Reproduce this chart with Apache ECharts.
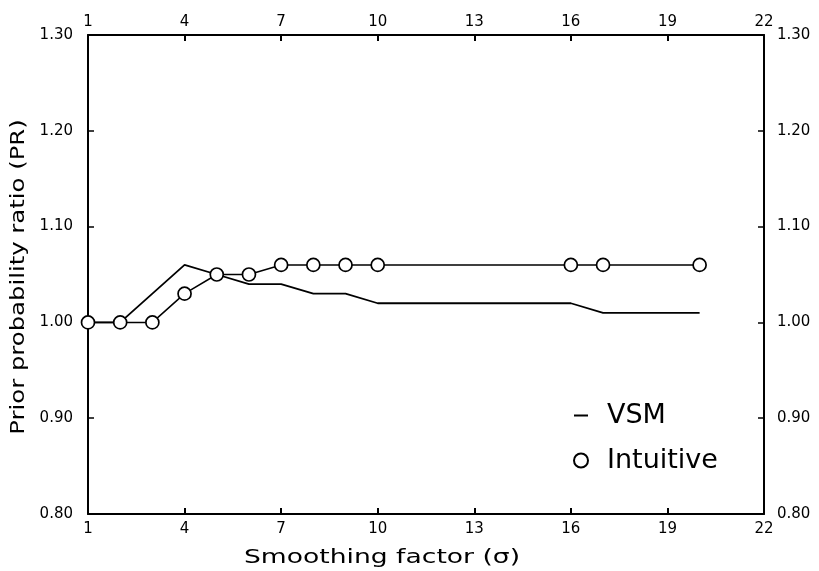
<!DOCTYPE html>
<html>
<head>
<meta charset="utf-8">
<script src="https://cdn.jsdelivr.net/npm/echarts@6/dist/echarts.min.js"></script>
<style>
  html, body { margin: 0; padding: 0; background: #fff; }
  #chart { width: 819px; height: 571px; }
</style>
</head>
<body>
<div id="chart"></div>
<script>
// Smoothing factor values at which the prior probability ratio was computed
const sigma = [1, 2, 3, 4, 5, 6, 7, 8, 9, 10, 16, 17, 20];
// Prior probability ratio, VSM method
const vsmPR = [1.00, 1.00, 1.03, 1.06, 1.05, 1.04, 1.04, 1.03, 1.03, 1.02, 1.02, 1.01, 1.01];
// Prior probability ratio, intuitive method
const intuitivePR = [1.00, 1.00, 1.00, 1.03, 1.05, 1.05, 1.06, 1.06, 1.06, 1.06, 1.06, 1.06, 1.06];
// Tick positions on the smoothing-factor axis
const xTicks = [1, 4, 7, 10, 13, 16, 19, 22];

const font = 'DejaVu Sans';
const black = '#000';

const pairs = (xs, ys) => xs.map((x, i) => [x, ys[i]]);

function xAxisDef(position, labelMargin) {
  return {
    type: 'value',
    position: position,
    min: 1,
    max: 22,
    axisLine: { show: true, onZero: false, lineStyle: { color: black, width: 2 } },
    axisTick: { show: true, inside: true, length: 6, lineStyle: { color: black, width: 2 }, customValues: xTicks },
    axisLabel: { show: true, margin: labelMargin, color: black, fontFamily: font, fontSize: 15, customValues: xTicks },
    splitLine: { show: false }
  };
}

function yAxisDef(position, labelMargin) {
  return {
    type: 'value',
    position: position,
    min: 0.8,
    max: 1.3,
    interval: 0.1,
    axisLine: { show: true, onZero: false, lineStyle: { color: black, width: 2 } },
    axisTick: { show: true, inside: true, length: 6, lineStyle: { color: black, width: 1.5 } },
    axisLabel: {
      show: true, margin: labelMargin, color: black, fontFamily: font, fontSize: 15,
      formatter: v => v.toFixed(2)
    },
    splitLine: { show: false }
  };
}

const chart = echarts.init(document.getElementById('chart'), null, { renderer: 'canvas' });

chart.setOption({
  backgroundColor: '#fff',
  animation: false,
  grid: { left: 88, right: 55, top: 35, bottom: 57, containLabel: false },
  xAxis: [xAxisDef('bottom', 8), xAxisDef('top', 5)],
  yAxis: [yAxisDef('left', 15), yAxisDef('right', 13)],
  legend: {
    orient: 'vertical',
    left: 568,
    top: 397,
    itemWidth: 14,
    itemHeight: 14,
    itemGap: 18,
    textStyle: { color: black, fontFamily: font, fontSize: 27, padding: [0, 0, 0, 14] },
    data: [
      { name: 'VSM', icon: 'path://M0,0H14V2H0Z' },
      { name: 'Intuitive', icon: 'circle' }
    ]
  },
  series: [
    {
      name: 'VSM',
      type: 'line',
      xAxisIndex: 0,
      yAxisIndex: 0,
      data: pairs(sigma, vsmPR),
      showSymbol: false,
      symbol: 'none',
      itemStyle: { color: black },
      lineStyle: { color: black, width: 1.8 },
      z: 2
    },
    {
      name: 'Intuitive',
      type: 'line',
      xAxisIndex: 0,
      yAxisIndex: 0,
      data: pairs(sigma, intuitivePR),
      symbol: 'circle',
      symbolSize: 13,
      clip: false,
      itemStyle: { color: '#fff', borderColor: black, borderWidth: 1.7 },
      lineStyle: { color: black, width: 1.5 },
      z: 3
    }
  ],
  graphic: [
    {
      type: 'text',
      x: 382,
      y: 558,
      scaleX: 1.4,
      style: {
        text: 'Smoothing factor (σ)',
        fill: black,
        font: '19px "DejaVu Sans"',
        align: 'center',
        verticalAlign: 'middle'
      }
    },
    {
      type: 'text',
      x: 19,
      y: 277,
      rotation: Math.PI / 2,
      scaleX: 1.28,
      style: {
        text: 'Prior probability ratio (PR)',
        fill: black,
        font: '19px "DejaVu Sans"',
        align: 'center',
        verticalAlign: 'middle'
      }
    }
  ]
});
</script>
</body>
</html>
